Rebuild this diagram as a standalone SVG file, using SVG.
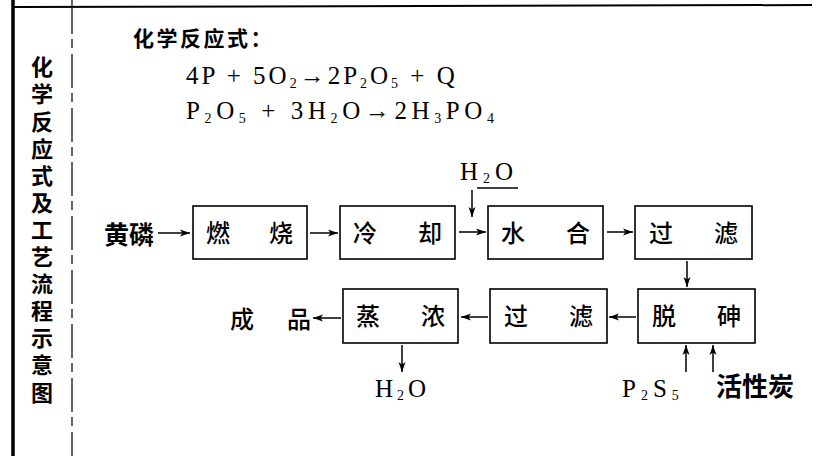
<svg xmlns="http://www.w3.org/2000/svg" width="818" height="456" viewBox="0 0 818 456">
<style>
.cjk{font-family:"Noto Sans CJK SC","Noto Sans CJK TC",sans-serif;fill:#000;font-weight:500}
.b{font-weight:700}
.f{font-family:"Liberation Serif","DejaVu Serif",serif;fill:#000}
.box{fill:none;stroke:#000;stroke-width:1.6}
.ln{fill:none;stroke:#000;stroke-width:1.5}
.frame{stroke:#000;fill:none}
</style>
<defs>
<marker id="ah" markerUnits="userSpaceOnUse" markerWidth="10" markerHeight="8" refX="10" refY="4" orient="auto">
<path d="M0,0.5 L10,4 L0,7.5 L2.5,4 Z" fill="#000"/>
</marker>
</defs>
<g id="frame">
<line class="frame" x1="13" y1="0" x2="13" y2="456" stroke-width="3.5"/>
<line class="frame" x1="13" y1="7" x2="812" y2="5" stroke-width="2"/>
<line class="frame" x1="72" y1="0" x2="72" y2="456" stroke-width="1.2" stroke-dasharray="34 5 9 6"/>
</g>
<g id="side-title">
<text class="cjk b" font-size="22" x="42" y="56" writing-mode="vertical-rl" letter-spacing="5.1">化学反应式及工艺流程示意图</text>
</g>
<g id="equations">
<text class="cjk b" font-size="21" x="133" y="46" letter-spacing="2.5">化学反应式：</text>
<text class="f" font-size="25" x="186" y="84" letter-spacing="3">4P + 5O<tspan font-size="14" dy="4">2</tspan><tspan dy="-4">→2P</tspan><tspan font-size="14" dy="4">2</tspan><tspan dy="-4">O</tspan><tspan font-size="14" dy="4">5</tspan><tspan dy="-4"> + Q</tspan></text>
<text class="f" font-size="25" x="186" y="119" letter-spacing="4.6">P<tspan font-size="14" dy="4">2</tspan><tspan dy="-4">O</tspan><tspan font-size="14" dy="4">5</tspan><tspan dy="-4"> + 3H</tspan><tspan font-size="14" dy="4">2</tspan><tspan dy="-4">O→2H</tspan><tspan font-size="14" dy="4">3</tspan><tspan dy="-4">PO</tspan><tspan font-size="14" dy="4">4</tspan></text>
</g>
<g id="n-huanglin"><text class="cjk b" font-size="25" x="104" y="244">黄磷</text></g>
<g id="n-ranshao"><rect class="box" x="193" y="206" width="114" height="53"/><text class="cjk" font-size="24" text-anchor="middle" y="242"><tspan x="218">燃</tspan><tspan x="281">烧</tspan></text></g>
<g id="n-lengque"><rect class="box" x="340" y="206" width="115" height="53"/><text class="cjk" font-size="24" text-anchor="middle" y="242"><tspan x="365">冷</tspan><tspan x="430">却</tspan></text></g>
<g id="n-shuihe"><rect class="box" x="488" y="206" width="115" height="53"/><text class="cjk" font-size="24" text-anchor="middle" y="242"><tspan x="513">水</tspan><tspan x="578">合</tspan></text></g>
<g id="n-guolv1"><rect class="box" x="635" y="206" width="117" height="53"/><text class="cjk" font-size="24" text-anchor="middle" y="242"><tspan x="661">过</tspan><tspan x="726">滤</tspan></text></g>
<g id="n-tuoshen"><rect class="box" x="638" y="289" width="117" height="54"/><text class="cjk" font-size="24" text-anchor="middle" y="325"><tspan x="664">脱</tspan><tspan x="729">砷</tspan></text></g>
<g id="n-guolv2"><rect class="box" x="490" y="289" width="117" height="54"/><text class="cjk" font-size="24" text-anchor="middle" y="325"><tspan x="516">过</tspan><tspan x="581">滤</tspan></text></g>
<g id="n-zhengnong"><rect class="box" x="343" y="289" width="115" height="54"/><text class="cjk" font-size="24" text-anchor="middle" y="325"><tspan x="368">蒸</tspan><tspan x="433">浓</tspan></text></g>
<g id="n-chengpin"><text class="cjk" font-size="24" text-anchor="middle" y="328"><tspan x="242">成</tspan><tspan x="299">品</tspan></text></g>
<g id="n-h2o-in"><text class="f" font-size="25" x="460" y="180" letter-spacing="5">H<tspan font-size="14" dy="3">2</tspan><tspan dy="-3">O</tspan></text><line class="ln" x1="477" y1="188" x2="518" y2="188" stroke-width="1.3"/></g>
<g id="n-h2o-out"><text class="f" font-size="25" x="375" y="397" letter-spacing="4">H<tspan font-size="14" dy="3">2</tspan><tspan dy="-3">O</tspan></text></g>
<g id="n-p2s5"><text class="f" font-size="25" x="622" y="397" letter-spacing="5">P<tspan font-size="14" dy="3">2</tspan><tspan dy="-3">S</tspan><tspan font-size="14" dy="3">5</tspan></text></g>
<g id="n-huoxingtan"><text class="cjk b" font-size="26" x="716" y="396">活性炭</text></g>
<g id="connectors">
<line class="ln" x1="158" y1="233" x2="190" y2="233" marker-end="url(#ah)"/>
<line class="ln" x1="310" y1="233" x2="338" y2="233" marker-end="url(#ah)"/>
<line class="ln" x1="459" y1="232" x2="486" y2="232" marker-end="url(#ah)"/>
<line class="ln" x1="607" y1="232" x2="633" y2="232" marker-end="url(#ah)"/>
<line class="ln" x1="472" y1="190" x2="472" y2="217" marker-end="url(#ah)"/>
<line class="ln" x1="687" y1="261" x2="687" y2="287" marker-end="url(#ah)"/>
<line class="ln" x1="636" y1="317" x2="609" y2="317" marker-end="url(#ah)"/>
<line class="ln" x1="488" y1="317" x2="461" y2="317" marker-end="url(#ah)"/>
<line class="ln" x1="341" y1="318" x2="313" y2="318" marker-end="url(#ah)"/>
<line class="ln" x1="402" y1="345" x2="402" y2="372" marker-end="url(#ah)"/>
<line class="ln" x1="686" y1="372" x2="686" y2="345" marker-end="url(#ah)"/>
<line class="ln" x1="713" y1="372" x2="713" y2="345" marker-end="url(#ah)"/>
</g>
</svg>
